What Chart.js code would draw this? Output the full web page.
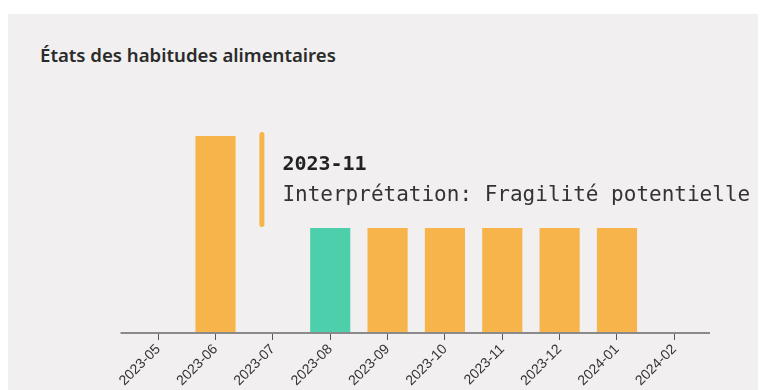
<!DOCTYPE html>
<html lang="fr">
<head>
<meta charset="utf-8">
<title>États des habitudes alimentaires</title>
<script src="https://cdn.jsdelivr.net/npm/chart.js@4.4.1/dist/chart.umd.min.js"></script>
<style>
  html, body { margin: 0; padding: 0; background: #fff; }
  .wrap { position: relative; width: 760px; height: 390px; overflow: hidden; }
  .panel { position: absolute; left: 8px; top: 14px; width: 750px; height: 400px; background: #f1eff0; }
  .title {
    position: absolute; left: 40px; top: 44px; margin: 0;
    font: 600 18.6px/22px "Noto Sans", sans-serif; color: #2b2b2b;
  }
  canvas { position: absolute; left: 0; top: 0; }
</style>
</head>
<body>
<div class="wrap">
  <div class="panel"></div>
  <h3 class="title">États des habitudes alimentaires</h3>
  <canvas id="habitsChart" width="760" height="390"></canvas>
</div>
<script>
const months = ["2023-05", "2023-06", "2023-07", "2023-08", "2023-09", "2023-10", "2023-11", "2023-12", "2024-01", "2024-02"];
const scores = [null, 15, null, 8, 8, 8, 8, 8, 8, null];
const interpretations = [null, "Risque élevé", null, "Équilibre", "Fragilité potentielle", "Fragilité potentielle",
    "Fragilité potentielle", "Fragilité potentielle", "Fragilité potentielle", null];
const hoveredMonth = "2023-11";

const stateColors = {
    "Équilibre": "#4ecfac",
    "Fragilité potentielle": "#f6b44a",
    "Risque élevé": "#f6b44a"
};

const orange = "#f6b44a";

// draws the axis baseline a bit wider than the bands
const baseline = {
    id: 'baseline',
    afterDatasetsDraw(chart) {
        const { ctx, chartArea } = chart;
        ctx.save();
        ctx.strokeStyle = '#8a8a8a';
        ctx.lineWidth = 2;
        ctx.beginPath();
        ctx.moveTo(chartArea.left - 9, chartArea.bottom);
        ctx.lineTo(chartArea.right + 7, chartArea.bottom);
        ctx.stroke();
        ctx.restore();
    }
};

// hover note above the selected bar, with the orange stripe on its left
const hoverNote = {
    id: 'hoverNote',
    afterDraw(chart) {
        const i = months.indexOf(hoveredMonth);
        const bar = chart.getDatasetMeta(0).data[i];
        if (!bar) return;
        const { ctx } = chart;
        const titleFont = 'bold 20px "DejaVu Sans Mono", monospace';
        const bodyFont = '21px "DejaVu Sans Mono", monospace';
        const body = 'Interprétation: ' + interpretations[i];

        ctx.save();
        ctx.font = bodyFont;
        const textW = ctx.measureText(body).width;
        const boxW = textW + 18;
        const left = bar.x - boxW / 2;
        const bottom = bar.y - 1;
        const top = bottom - 95;

        ctx.fillStyle = orange;
        ctx.beginPath();
        ctx.roundRect(left, top, 5, bottom - top, 2.5);
        ctx.fill();

        ctx.fillStyle = '#222';
        ctx.textBaseline = 'alphabetic';
        ctx.font = titleFont;
        ctx.fillText(months[i], left + 23, top + 38);
        ctx.fillStyle = '#333';
        ctx.font = bodyFont;
        ctx.fillText(body, left + 23, top + 69);
        ctx.restore();
    }
};

const ctx = document.getElementById('habitsChart').getContext('2d');
const habitsChart = new Chart(ctx, {
    type: 'bar',
    data: {
        labels: months,
        datasets: [{
            label: 'État',
            data: scores,
            backgroundColor: interpretations.map(s => stateColors[s] || orange),
            borderWidth: 0,
            barPercentage: 0.7,
            categoryPercentage: 1
        }]
    },
    options: {
        responsive: false,
        animation: false,
        layout: {
            padding: { left: 129.5, right: 57, top: 136, bottom: 0 }
        },
        plugins: {
            legend: { display: false },
            tooltip: { enabled: false }
        },
        scales: {
            x: {
                offset: true,
                border: { display: false },
                grid: {
                    offset: false,
                    drawOnChartArea: false,
                    tickLength: 7,
                    tickColor: '#555',
                    tickWidth: 1
                },
                ticks: {
                    maxRotation: 45,
                    minRotation: 45,
                    padding: 1,
                    color: '#333',
                    font: { family: '"Liberation Sans", Arial, sans-serif', size: 14 }
                },
                afterFit(scale) {
                    scale.height = 57;
                }
            },
            y: {
                display: false,
                min: 0,
                max: 15
            }
        }
    },
    plugins: [baseline, hoverNote]
});
</script>
</body>
</html>
